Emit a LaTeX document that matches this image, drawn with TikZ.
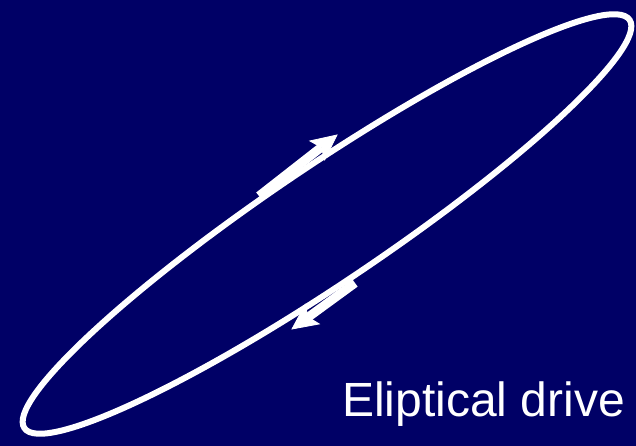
\documentclass[tikz,border=0pt]{standalone}
\usepackage{fontspec}
\setmainfont{Liberation Sans}
\usetikzlibrary{calc}
\definecolor{navybg}{HTML}{000066}
\tikzset{
  orbit/.style={draw=white, line width=6pt},
  shaft/.style={draw=white, line width=9pt},
  headfill/.style={fill=white, draw=white, line width=0.8pt, line join=miter},
  caption/.style={text=white, font=\fontsize{48}{53}\selectfont, inner sep=0pt, anchor=base west}
}
\newcommand{\arrowhead}[2]{%
  \coordinate (hb) at ($(#2)!25pt!(#1)$);
  \coordinate (hn) at ($(#2)!20pt!(#1)$);
  \draw[shaft] (#1) -- (hn);
  \fill[headfill] (#2) -- ($(hb)!12pt!90:(#2)$) -- (hn) -- ($(hb)!12pt!-90:(#2)$) -- cycle;
}
\begin{document}
\begin{tikzpicture}[x=1pt,y=1pt]
  \fill[navybg] (0,0) rectangle (636,446);
  \useasboundingbox (0,0) rectangle (636,446);
  \draw[orbit, rotate around={34:(327,222)}] (327,222) ellipse [x radius=365, y radius=58];
  \coordinate (u1) at (259,250);
  \coordinate (u2) at (337,311);
  \coordinate (l1) at (355,163);
  \coordinate (l2) at (292,117);
  \arrowhead{u1}{u2}
  \arrowhead{l1}{l2}
  \node[caption] (cap) at (342,29) {Eliptical drive};
\end{tikzpicture}
\end{document}
